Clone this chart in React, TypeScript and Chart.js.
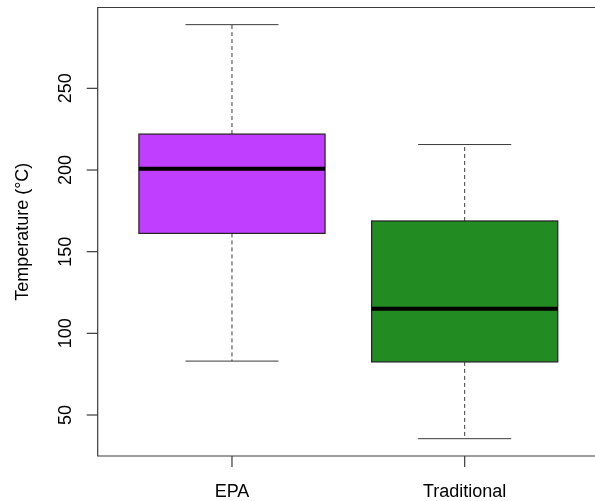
import { useEffect, useRef } from "react";
import { Chart, registerables } from "chart.js";

Chart.register(...registerables);

// values
const categories = ["EPA", "Traditional"];
const whiskerLow = [83, 35.5];
const q1 = [161.2, 82.5];
const median = [200.8, 115];
const q3 = [222, 168.8];
const whiskerHigh = [289, 215.6];
const boxColors = ["#BF3EFF", "#228B22"];
const yTicks = [50, 100, 150, 200, 250];
const yTitle = "Temperature (°C)";

const BOX_HALF = 0.4;
const CAP_HALF = 0.2;
const FONT = '18px "Liberation Sans", Arial, sans-serif';
const LINE = "#3a3a3a";

const boxplotPlugin = {
  id: "rBoxplot",
  afterDraw(chart: any) {
    const { ctx, chartArea } = chart;
    const xs = chart.scales.x;
    const ys = chart.scales.y;
    ctx.save();

    categories.forEach((_, i) => {
      const pos = i + 1;
      const cx = xs.getPixelForValue(pos);
      const left = xs.getPixelForValue(pos - BOX_HALF);
      const right = xs.getPixelForValue(pos + BOX_HALF);
      const capL = xs.getPixelForValue(pos - CAP_HALF);
      const capR = xs.getPixelForValue(pos + CAP_HALF);
      const yLow = ys.getPixelForValue(whiskerLow[i]);
      const yQ1 = ys.getPixelForValue(q1[i]);
      const yMed = ys.getPixelForValue(median[i]);
      const yQ3 = ys.getPixelForValue(q3[i]);
      const yHigh = ys.getPixelForValue(whiskerHigh[i]);

      // dashed whiskers
      ctx.strokeStyle = LINE;
      ctx.lineWidth = 1;
      ctx.setLineDash([4, 3]);
      ctx.beginPath();
      ctx.moveTo(cx, yQ3);
      ctx.lineTo(cx, yHigh);
      ctx.moveTo(cx, yQ1);
      ctx.lineTo(cx, yLow);
      ctx.stroke();
      ctx.setLineDash([]);

      // staples
      ctx.beginPath();
      ctx.moveTo(capL, yHigh);
      ctx.lineTo(capR, yHigh);
      ctx.moveTo(capL, yLow);
      ctx.lineTo(capR, yLow);
      ctx.stroke();

      // box
      ctx.fillStyle = boxColors[i];
      ctx.fillRect(left, yQ3, right - left, yQ1 - yQ3);
      ctx.strokeStyle = "#222";
      ctx.lineWidth = 1.2;
      ctx.strokeRect(left, yQ3, right - left, yQ1 - yQ3);

      // median
      ctx.strokeStyle = "#000";
      ctx.lineWidth = 4;
      ctx.beginPath();
      ctx.moveTo(left, yMed);
      ctx.lineTo(right, yMed);
      ctx.stroke();
    });

    // frame (right side falls outside the picture)
    ctx.strokeStyle = LINE;
    ctx.lineWidth = 1.2;
    ctx.beginPath();
    ctx.moveTo(chartArea.right, chartArea.top);
    ctx.lineTo(chartArea.left, chartArea.top);
    ctx.lineTo(chartArea.left, chartArea.bottom);
    ctx.lineTo(chartArea.right, chartArea.bottom);
    ctx.stroke();

    ctx.font = FONT;
    ctx.fillStyle = "#000";

    // y ticks and rotated labels
    yTicks.forEach((t) => {
      const py = ys.getPixelForValue(t);
      ctx.beginPath();
      ctx.moveTo(chartArea.left, py);
      ctx.lineTo(chartArea.left - 11, py);
      ctx.stroke();
      ctx.save();
      ctx.translate(71, py);
      ctx.rotate(-Math.PI / 2);
      ctx.textAlign = "center";
      ctx.textBaseline = "alphabetic";
      ctx.fillText(String(t), 0, 0);
      ctx.restore();
    });

    // x ticks and labels
    categories.forEach((cat, i) => {
      const px = xs.getPixelForValue(i + 1);
      ctx.beginPath();
      ctx.moveTo(px, chartArea.bottom);
      ctx.lineTo(px, chartArea.bottom + 11);
      ctx.stroke();
      ctx.textAlign = "center";
      ctx.textBaseline = "alphabetic";
      ctx.fillText(cat, px, 496.5);
    });

    // y axis title
    ctx.save();
    ctx.translate(27.5, (chartArea.top + chartArea.bottom) / 2);
    ctx.rotate(-Math.PI / 2);
    ctx.textAlign = "center";
    ctx.textBaseline = "alphabetic";
    ctx.fillText(yTitle, 0, 0);
    ctx.restore();

    ctx.restore();
  },
};

export default function App() {
  const canvasRef = useRef<HTMLCanvasElement | null>(null);

  useEffect(() => {
    if (!canvasRef.current) return;
    const chart = new Chart(canvasRef.current, {
      type: "scatter",
      data: {
        datasets: [
          {
            data: categories.map((_, i) => ({ x: i + 1, y: median[i] })),
            pointRadius: 0,
            showLine: false,
          },
        ],
      },
      options: {
        responsive: false,
        animation: false,
        layout: { padding: { left: 97.7, top: 7.5, right: 0, bottom: 45 } },
        plugins: { legend: { display: false }, tooltip: { enabled: false } },
        scales: {
          x: { type: "linear", min: 0.423, max: 2.56, display: false },
          y: { type: "linear", min: 24.9, max: 299.5, display: false },
        },
      },
      plugins: [boxplotPlugin],
    });
    return () => chart.destroy();
  }, []);

  return (
    <div style={{ position: "absolute", left: 0, top: 0, width: 595, height: 501, background: "#fff" }}>
      <canvas ref={canvasRef} width={595} height={501} />
    </div>
  );
}
